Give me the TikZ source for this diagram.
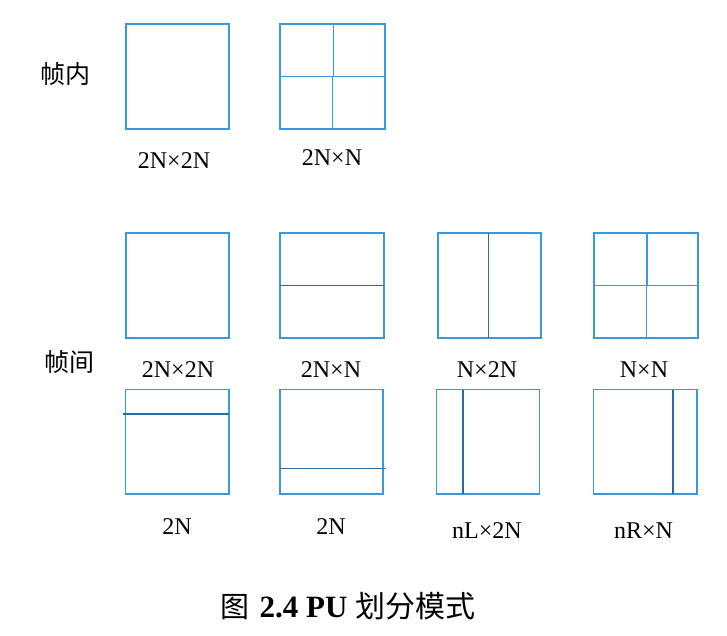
\documentclass[tikz,border=0pt]{standalone}
\usepackage{fontspec}
\setmainfont{Liberation Serif}
\newfontfamily\cjk{Noto Sans CJK SC}
\definecolor{boxblue}{RGB}{60,152,216}
\definecolor{divblue}{RGB}{40,110,165}
\begin{document}
\begin{tikzpicture}[x=1pt,y=-1pt,
  outer/.style={draw=boxblue,line width=2pt},
  thin/.style={draw=boxblue,line width=1.5pt},
  dark/.style={draw=divblue,line width=1.4pt},
  darkthick/.style={draw=divblue,line width=2.3pt},
  lbl/.style={inner sep=0pt,font=\fontsize{24}{28}\selectfont},
  side/.style={inner sep=0pt,font=\cjk\fontsize{25}{28}\selectfont},
  captext/.style={inner sep=0pt}]
\useasboundingbox (0,0) rectangle (727,636);
% ---- row 1 (intra) ----
\draw[outer] (125.5,24) rectangle (229,129);
\draw[outer] (280,24) rectangle (385,129);
\draw[thin] (333.7,24) -- (333.7,76.3);
\draw[thin] (332.3,76.3) -- (332.3,129);
\draw[thin] (280,76.3) -- (385,76.3);
\node[lbl] (l1) at (174,161) {2N×2N};
\node[lbl] (l2) at (332,158) {2N×N};
\node[side] (intra) at (65.5,74) {帧内};
% ---- row 2 (inter) ----
\draw[outer] (125.5,233) rectangle (229,338);
\draw[outer] (280,233) rectangle (383.5,338);
\draw[dark] (280,285.3) -- (383.5,285.3);
\draw[outer] (437.5,233) rectangle (541,338);
\draw[dark] (488.3,233) -- (488.3,338);
\draw[outer] (594,233) rectangle (698,338);
\draw[thin] (647.2,233) -- (647.2,285.3);
\draw[thin] (646.3,285.3) -- (646.3,338);
\draw[thin] (594,285.3) -- (698,285.3);
\node[lbl] (l3) at (178,370) {2N×2N};
\node[lbl] (l4) at (331,370) {2N×N};
\node[lbl] (l5) at (487,370) {N×2N};
\node[lbl] (l6) at (644,370) {N×N};
\node[side] (inter) at (69.5,362.5) {帧间};
% ---- row 3 (asymmetric) ----
\draw[thin] (125.5,389.5) rectangle (229,494);
\draw[dark] (123,414) -- (229,414);
\draw[thin] (280,389.5) rectangle (383,494);
\draw[dark] (280,468.3) -- (385.5,468.3);
\draw[thin] (436.5,389.5) rectangle (539.5,494);
\draw[darkthick] (463.2,389.5) -- (463.2,494);
\draw[thin] (593.5,389.5) rectangle (697,494);
\draw[darkthick] (673.1,389.5) -- (673.1,494);
\node[lbl] (l7) at (177,527) {2N};
\node[lbl] (l8) at (331,527) {2N};
\node[lbl] (l9) at (487,531) {nL×2N};
\node[lbl] (l10) at (643.5,531) {nR×N};
% ---- caption ----
\node[captext] (caption) at (348,606) {{\cjk\fontsize{29}{32}\selectfont 图}\hspace{10pt}{\fontsize{31}{34}\selectfont\textbf{2.4 PU}}\hspace{8pt}{\cjk\fontsize{30}{32}\selectfont 划分模式}};
\end{tikzpicture}
\end{document}
